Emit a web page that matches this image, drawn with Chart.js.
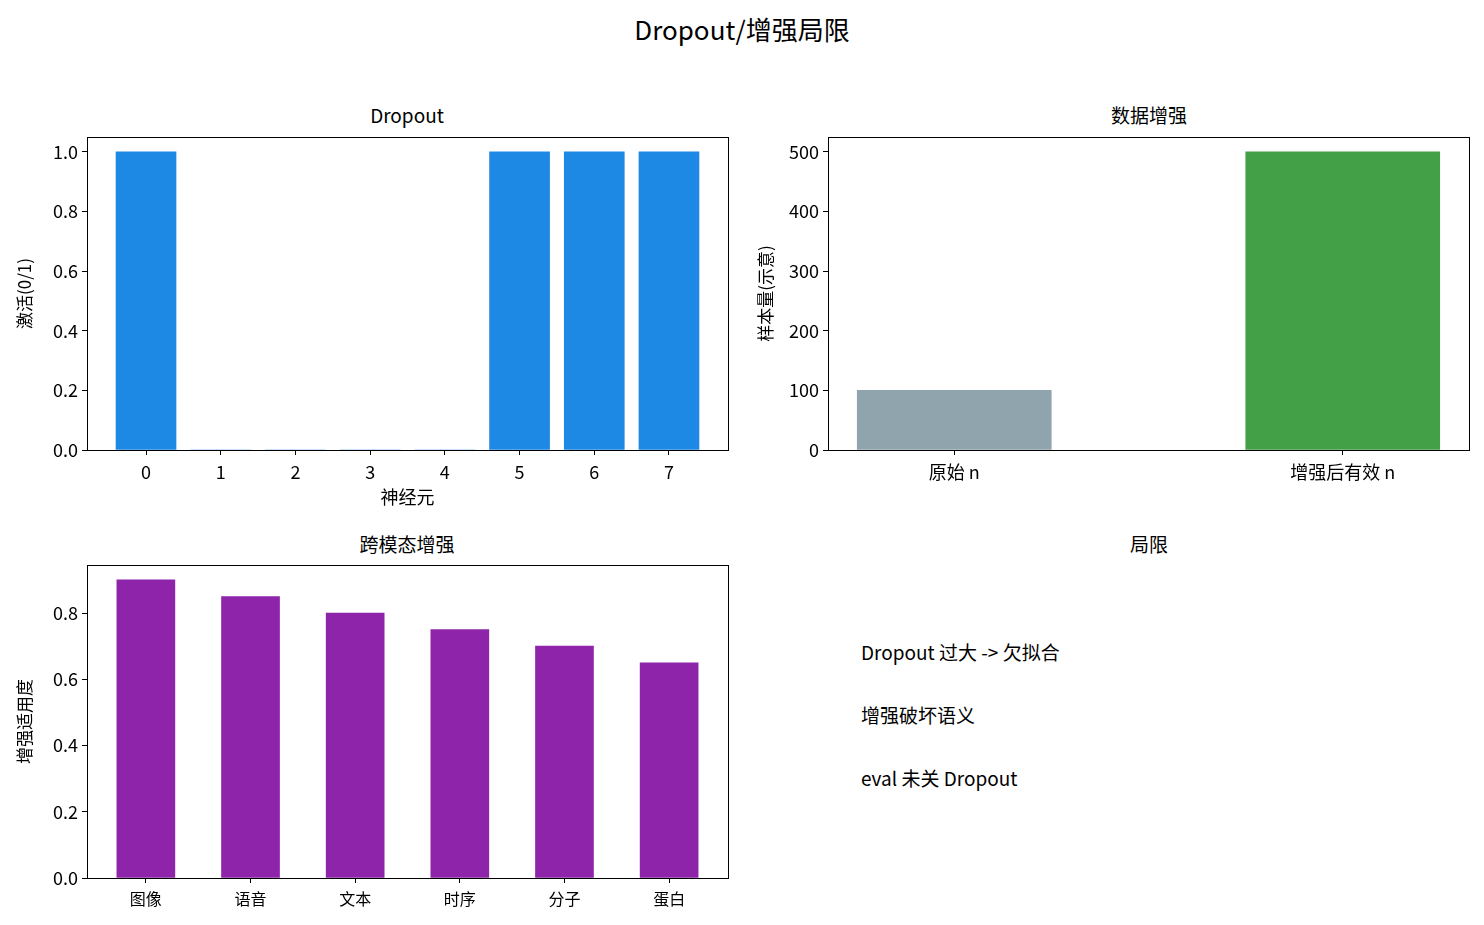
<!DOCTYPE html>
<html><head><meta charset="utf-8">
<script src="https://cdn.jsdelivr.net/npm/chart.js@4"></script>
<style>
body{margin:0;width:1484px;height:925px;background:#fff;position:relative;font-family:"Noto Sans CJK SC","Noto Sans",sans-serif;color:#000;overflow:hidden}
.t{position:absolute;transform:translateX(-50%);white-space:nowrap;font-size:19px}
.c{position:absolute}
.txt{position:absolute;left:861px;font-size:19px;transform:translateY(-50%)}
</style></head><body>
<div class="t" style="left:742px;top:10px;font-size:26px">Dropout/增强局限</div>
<div class="t" style="left:407px;top:101px">Dropout</div>
<div class="t" style="left:1149px;top:101px">数据增强</div>
<div class="t" style="left:407px;top:530px">跨模态增强</div>
<div class="t" style="left:1149px;top:530px">局限</div>
<div class="txt" style="top:651px">Dropout 过大 -&gt; 欠拟合</div>
<div class="txt" style="top:714px">增强破坏语义</div>
<div class="txt" style="top:777px">eval 未关 Dropout</div>
<div class="c" style="left:0;top:100px"><canvas id="c1" width="740" height="420"></canvas></div>
<div class="c" style="left:741px;top:100px"><canvas id="c2" width="740" height="420"></canvas></div>
<div class="c" style="left:0;top:528px"><canvas id="c3" width="740" height="397"></canvas></div>
<script>
const neurons = ['0','1','2','3','4','5','6','7'];
const activation = [1, 0, 0, 0, 0, 1, 1, 1];
const augLabels = ['原始 n', '增强后有效 n'];
const augValues = [100, 500];
const modalities = ['图像', '语音', '文本', '时序', '分子', '蛋白'];
const suitability = [0.9, 0.85, 0.8, 0.75, 0.7, 0.65];

const FONT = '"Noto Sans CJK SC","Noto Sans",sans-serif';
Chart.defaults.font.family = FONT;
Chart.defaults.color = '#000';
Chart.defaults.animation = false;
Chart.defaults.devicePixelRatio = 1;

const frame = { id: 'frame', afterDatasetsDraw(c) {
  const a = c.chartArea, g = c.ctx;
  g.save(); g.strokeStyle = '#000'; g.lineWidth = 1;
  g.strokeRect(Math.round(a.left) + 0.5, Math.round(a.top) + 0.5, Math.round(a.right - a.left), Math.round(a.bottom - a.top));
  g.restore();
}};

function make(id, labels, values, colors, o) {
  new Chart(document.getElementById(id), {
    type: 'bar',
    data: { datasets: [{ data: values.map((v, i) => ({ x: i, y: v })), backgroundColor: colors, barThickness: o.bw }] },
    plugins: [frame],
    options: {
      responsive: false,
      layout: { padding: { top: o.top, right: o.right, left: 0, bottom: 0 } },
      plugins: { legend: { display: false }, tooltip: { enabled: false } },
      scales: {
        x: { type: 'linear', min: o.xmin, max: o.xmax, offset: false,
          afterBuildTicks: ax => { ax.ticks = labels.map((_, i) => ({ value: i })); },
          afterFit: ax => { ax.height = o.xh; },
          ticks: { callback: v => labels[v], font: { size: o.xfs }, padding: 6, maxRotation: 0, autoSkip: false },
          grid: { drawOnChartArea: false, offset: false, tickLength: 5, color: '#000' }, border: { color: '#000' },
          title: { display: !!o.xt, text: o.xt, font: { size: 18 }, padding: { top: 0, bottom: 12 } } },
        y: { min: 0, max: o.ymax,
          afterBuildTicks: ax => { ax.ticks = o.yt.map(v => ({ value: v })); },
          afterFit: ax => { ax.width = o.yw; },
          ticks: { callback: o.yfmt, font: { size: 18 }, padding: 4 },
          grid: { drawOnChartArea: false, tickLength: 5, color: '#000' }, border: { color: '#000' },
          title: { display: true, text: o.ytitle, font: { size: 17 }, padding: { top: 14, bottom: 0 } } }
      }
    }
  });
}

make('c1', neurons, activation, '#1E88E5', { bw: 60, xmin: -0.79, xmax: 7.79, top: 37, right: 12, xh: 70, yw: 87,
  ymax: 1.05, yt: [0, 0.2, 0.4, 0.6, 0.8, 1.0], yfmt: v => v.toFixed(1), ytitle: '激活(0/1)', xt: '神经元', xfs: 18 });
make('c2', augLabels, augValues, ['#90A4AE', '#43A047'], { bw: 194, xmin: -0.325, xmax: 1.325, top: 37, right: 12, xh: 70, yw: 87,
  ymax: 525, yt: [0, 100, 200, 300, 400, 500], yfmt: v => v, ytitle: '样本量(示意)', xt: '', xfs: 18 });
make('c3', modalities, suitability, '#8E24AA', { bw: 58, xmin: -0.5625, xmax: 5.5625, top: 37, right: 12, xh: 47, yw: 87,
  ymax: 0.945, yt: [0, 0.2, 0.4, 0.6, 0.8], yfmt: v => v.toFixed(1), ytitle: '增强适用度', xt: '', xfs: 16 });
</script>
</body></html>
